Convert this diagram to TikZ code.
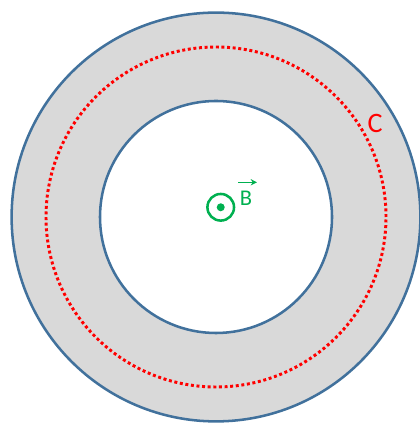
\documentclass[tikz,border=0pt]{standalone}
\usepackage{fontspec}
\setmainfont{Carlito}
\usepackage{tikz}
\usetikzlibrary{arrows.meta}
\definecolor{ringblue}{HTML}{41719C}
\definecolor{ringgray}{HTML}{D9D9D9}
\definecolor{fieldgreen}{HTML}{00B050}

\begin{document}
\begin{tikzpicture}
  \useasboundingbox (0, 0) rectangle (10.475, 10.575);

  % Ring (outer and inner boundary)
  \fill[ringgray, even odd rule] (5.4, 5.15) circle (5.11) (5.4, 5.15) circle (2.9);
  \draw[ringblue, line width=1.8pt] (5.4, 5.15) circle (5.11);
  \draw[ringblue, line width=1.8pt] (5.4, 5.15) circle (2.9);

  % Contour C
  \draw[red, line width=2.1pt, dash pattern=on 2.1pt off 1.9pt] (5.4, 5.15) circle (4.25);
  \node[red, font=\fontsize{20}{22}\selectfont] (lblC) at (9.375, 7.49) {C};

  % Field B out of the page
  \draw[fieldgreen, line width=1.8pt] (5.518, 5.393) circle (0.333);
  \fill[fieldgreen] (5.518, 5.393) circle (0.1);
  \node[fieldgreen, font=\fontsize{16}{18}\selectfont] (lblB) at (6.15, 5.63) {B};
  \draw[fieldgreen, line width=1.1pt, -{Stealth[length=4.5pt, width=4.5pt]}] (5.95, 6.018) -- (6.425, 6.018);
\end{tikzpicture}
\end{document}
